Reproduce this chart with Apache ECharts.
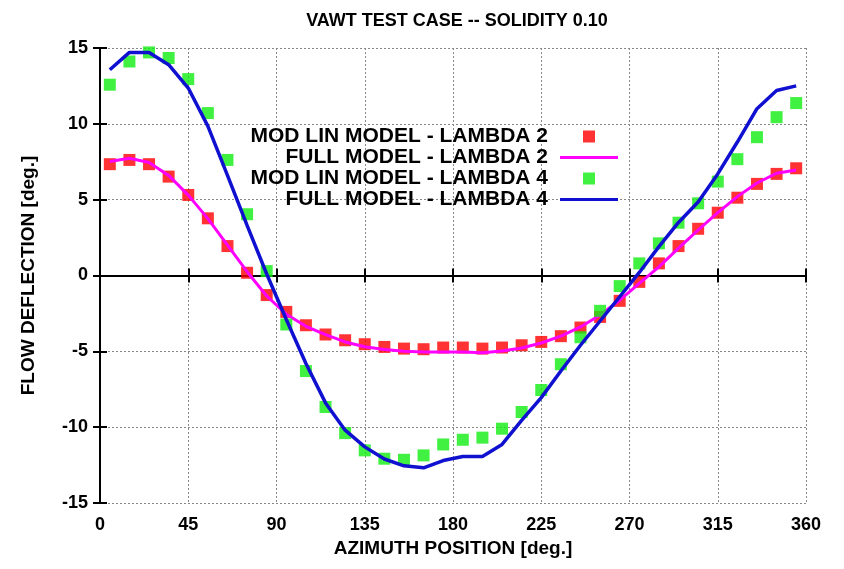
<!DOCTYPE html>
<html>
<head>
<meta charset="utf-8">
<script src="https://cdn.jsdelivr.net/npm/echarts@6/dist/echarts.min.js"></script>
<style>html,body{margin:0;padding:0;background:#fff}#c{width:844px;height:569px}</style>
</head>
<body>
<div id="c"></div>
<script>
const azimuth = [5,15,25,35,45,55,65,75,85,95,105,115,125,135,145,155,165,175,185,195,205,215,225,235,245,255,265,275,285,295,305,315,325,335,345,355];
const modLinL2 = [7.34,7.62,7.34,6.52,5.31,3.77,1.94,0.18,-1.29,-2.4,-3.28,-3.89,-4.27,-4.53,-4.71,-4.82,-4.86,-4.75,-4.75,-4.82,-4.75,-4.6,-4.38,-4.0,-3.43,-2.73,-1.67,-0.42,0.8,1.94,3.08,4.14,5.13,6.04,6.7,7.07];
const fullL2 = [7.51,7.73,7.45,6.6,5.3,3.75,2.0,0.25,-1.35,-2.55,-3.35,-3.9,-4.38,-4.7,-4.88,-5.0,-5.05,-5.05,-5.05,-5.1,-4.98,-4.78,-4.45,-4.0,-3.39,-2.6,-1.63,-0.52,0.57,1.8,3.0,4.15,5.2,6.1,6.74,6.96];
const modLinL4 = [12.58,14.11,14.71,14.34,12.95,10.71,7.62,4.04,0.29,-3.23,-6.3,-8.67,-10.39,-11.53,-12.08,-12.15,-11.86,-11.14,-10.83,-10.69,-10.1,-9.0,-7.55,-5.85,-4.07,-2.33,-0.7,0.8,2.12,3.48,4.76,6.19,7.67,9.12,10.44,11.37];
const fullL4 = [13.57,14.71,14.71,13.9,12.36,9.85,6.6,3.3,0.1,-2.9,-5.8,-8.4,-10.2,-11.3,-12.1,-12.55,-12.68,-12.2,-11.93,-11.93,-11.14,-9.55,-8.05,-6.3,-4.6,-3.0,-1.4,0.2,1.9,3.5,4.85,6.7,8.8,11.0,12.2,12.5];
const seriesNames = ['MOD LIN MODEL - LAMBDA 2','FULL MODEL - LAMBDA 2','MOD LIN MODEL - LAMBDA 4','FULL MODEL - LAMBDA 4'];
const titleText = 'VAWT TEST CASE -- SOLIDITY 0.10';
const xName = 'AZIMUTH POSITION [deg.]';
const yName = 'FLOW DEFLECTION [deg.]';

const pairs = arr => azimuth.map((x, i) => [x, arr[i]]);
const FONT = 'Liberation Sans';
const SQUARE_ICON = 'path://M0,0L10,0L10,10L0,10Z';
const LINE_ICON = 'path://M0,0L58,0L58,3L0,3Z';
const chart = echarts.init(document.getElementById('c'));
const gridLine = {show: true, lineStyle: {color: '#888', type: [2, 2], width: 1}};
chart.setOption({
  animation: false,
  backgroundColor: '#fff',
  title: {text: titleText, left: 452, top: 7, textAlign: 'center',
    textStyle: {fontFamily: FONT, fontWeight: 'bold', fontSize: 18, color: '#000'}},
  legend: {
    orient: 'vertical', align: 'right', right: 226, top: 126, padding: 0,
    itemWidth: 58, itemHeight: 12, itemGap: 0, symbolKeepAspect: true,
    textStyle: {fontFamily: FONT, fontWeight: 'bold', fontSize: 21, color: '#000', padding: [0, 7, 0, 0]},
    data: [
      {name: seriesNames[0], icon: SQUARE_ICON},
      {name: seriesNames[1], icon: LINE_ICON},
      {name: seriesNames[2], icon: SQUARE_ICON},
      {name: seriesNames[3], icon: LINE_ICON}
    ]
  },
  grid: {left: 100, right: 38, top: 48, bottom: 66},
  xAxis: [{
    type: 'value', min: 0, max: 360, interval: 45,
    name: xName, nameLocation: 'middle', nameGap: 25,
    nameTextStyle: {fontFamily: FONT, fontWeight: 'bold', fontSize: 19, color: '#000'},
    axisLine: {lineStyle: {color: '#000', width: 2}},
    axisTick: {inside: true, length: 7, lineStyle: {color: '#000', width: 2}},
    axisLabel: {fontFamily: FONT, fontWeight: 'bold', fontSize: 18, color: '#000', margin: 13},
    splitLine: gridLine
  }, {
    type: 'value', min: 0, max: 360, interval: 45, position: 'top',
    axisLine: {lineStyle: {color: '#000', width: 2}},
    axisTick: {inside: true, length: 7, lineStyle: {color: '#000', width: 2}},
    axisLabel: {show: false}, splitLine: {show: false}
  }],
  yAxis: [{
    type: 'value', min: -15, max: 15, interval: 5,
    name: yName, nameLocation: 'middle', nameGap: 62, nameRotate: 90,
    nameTextStyle: {fontFamily: FONT, fontWeight: 'bold', fontSize: 19, color: '#000'},
    axisLine: {lineStyle: {color: '#000', width: 2}},
    axisTick: {inside: true, length: 7, lineStyle: {color: '#000', width: 2}},
    axisLabel: {fontFamily: FONT, fontWeight: 'bold', fontSize: 18, color: '#000', margin: 12},
    splitLine: gridLine
  }, {
    type: 'value', min: -15, max: 15, interval: 5, position: 'right',
    axisLine: {show: true, lineStyle: {color: '#000', width: 2}},
    axisTick: {show: true, inside: true, length: 7, lineStyle: {color: '#000', width: 2}},
    axisLabel: {show: false}, splitLine: {show: false}
  }],
  series: [
    {name: seriesNames[0], type: 'scatter', symbol: 'rect', symbolSize: 12,
     itemStyle: {color: '#ff0000'}, data: pairs(modLinL2), z: 2},
    {name: seriesNames[1], type: 'line', showSymbol: false, symbol: 'none',
     lineStyle: {color: '#ff00ff', width: 3}, itemStyle: {color: '#ff00ff'}, data: pairs(fullL2), z: 3},
    {name: seriesNames[2], type: 'scatter', symbol: 'rect', symbolSize: 12,
     itemStyle: {color: '#11ee11'}, data: pairs(modLinL4), z: 4},
    {name: seriesNames[3], type: 'line', showSymbol: false, symbol: 'none',
     lineStyle: {color: '#1010d0', width: 3.5}, itemStyle: {color: '#1010d0'}, data: pairs(fullL4), z: 5}
  ]
});
</script>
</body>
</html>
